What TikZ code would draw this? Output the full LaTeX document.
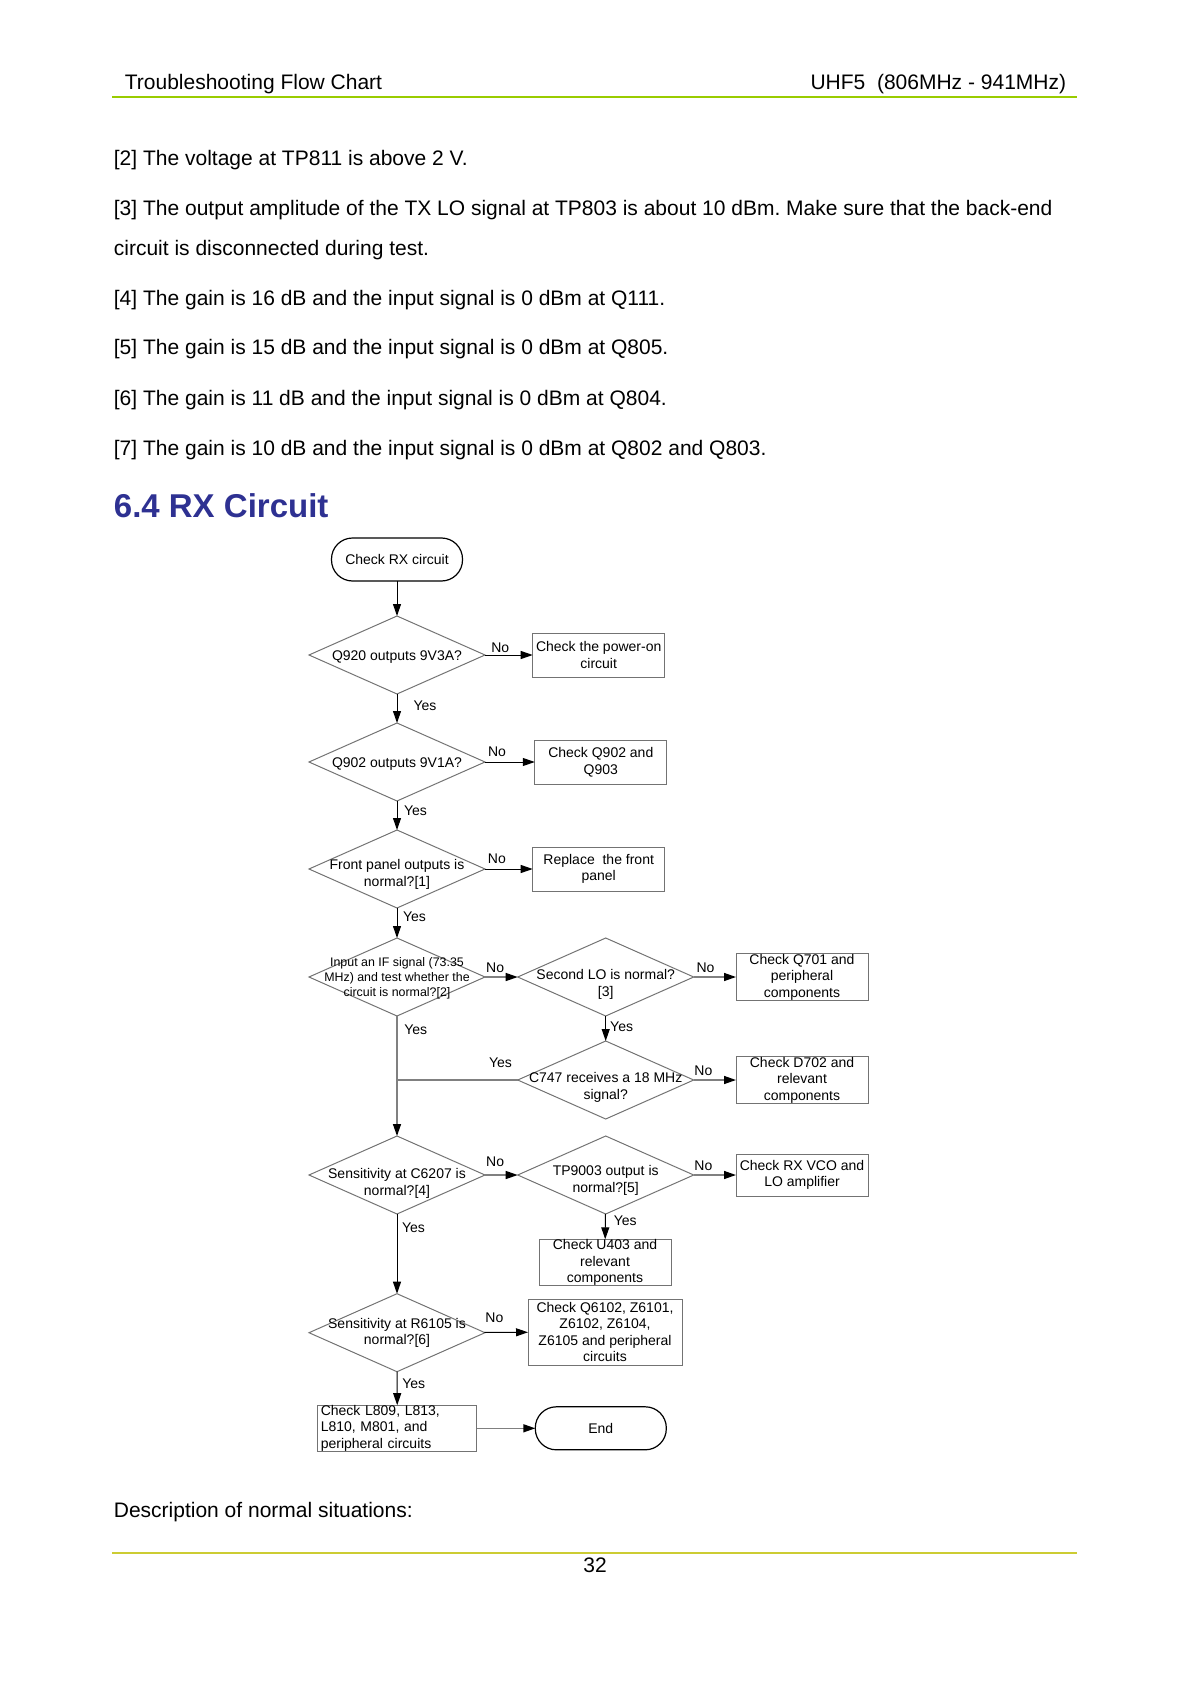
\documentclass[tikz,border=0pt]{standalone}
\usepackage{fontspec}
\setmainfont{Liberation Sans}
\usetikzlibrary{shapes.geometric,arrows.meta}
\definecolor{rxHeadRule}{RGB}{153,204,0}
\definecolor{rxFootRule}{RGB}{204,204,51}
\definecolor{rxTitle}{RGB}{46,49,146}
\newcommand{\bodyfont}{\fontsize{10.5}{12.6}\selectfont}
\newcommand{\chartfont}{\fontsize{7}{8.3}\selectfont}
\newcommand{\smallchartfont}{\fontsize{6.2}{7.5}\selectfont}
\frenchspacing
\begin{document}
\begin{tikzpicture}[x=0.5pt, y=-0.5pt]
% Page frame of the RX flow chart
\providecommand{\rxShapeColor}{black!55}
\providecommand{\rxJoinColor}{black!50}
\useasboundingbox (0,0) rectangle (1191,1684);
% Header
\node[anchor=base west, inner sep=0pt, font=\bodyfont] (hdleft) at (124.5,90) {Troubleshooting Flow Chart};
\node[anchor=base east, inner sep=0pt, font=\bodyfont] (hdright) at (1066.5,90) {UHF5\ \ (806MHz - 941MHz)};
\draw[draw=rxHeadRule, line width=0.9pt] (112,97) -- (1077,97);
% Notes above the chart
\begin{scope}[every node/.style={anchor=base west, inner sep=0pt, font=\bodyfont}]
  \node (note2) at (113.5,166) {[2] The voltage at TP811 is above 2 V.};
  \node (note3) at (113.5,216) {[3] The output amplitude of the TX LO signal at TP803 is about 10 dBm. Make sure that the back-end};
  \node (note3b) at (113.5,256) {circuit is disconnected during test.};
  \node (note4) at (113.5,305.5) {[4] The gain is 16 dB and the input signal is 0 dBm at Q111.};
  \node (note5) at (113.5,355) {[5] The gain is 15 dB and the input signal is 0 dBm at Q805.};
  \node (note6) at (113.5,405.5) {[6] The gain is 11 dB and the input signal is 0 dBm at Q804.};
  \node (note7) at (113.5,455.5) {[7] The gain is 10 dB and the input signal is 0 dBm at Q802 and Q803.};
  \node[font=\fontsize{16.5}{19.5}\selectfont\bfseries, text=rxTitle] (title) at (113.5,517) {6.4 RX Circuit};
  \node (descr) at (113.5,1517.5) {Description of normal situations:};
\end{scope}
% Footer
\draw[draw=rxFootRule, line width=0.6pt] (112,1553) -- (1077,1553);
\node[anchor=base, inner sep=0pt, font=\bodyfont] (pageno) at (595,1572.5) {32};
% Flow chart
\begin{scope}[
    dec/.style={diamond, draw=\rxShapeColor, line width=0.5pt, minimum width=88pt, minimum height=39pt, inner sep=0pt, outer sep=0pt},
    dtxt/.style={font=\chartfont, align=center, inner sep=0pt},
    box/.style={rectangle, draw=\rxShapeColor, line width=0.5pt, minimum width=66pt, minimum height=22pt, inner sep=0pt, outer sep=0pt, align=center, font=\chartfont},
    term/.style={rectangle, rounded corners=10.5pt, draw=black, line width=0.6pt, minimum width=65.5pt, minimum height=21.5pt, outer sep=0pt, font=\chartfont},
    flow/.style={-{Triangle[length=6pt,width=4pt]}, line width=0.5pt},
    gflow/.style={-{Triangle[length=6pt,width=4pt,color=black]}, draw=\rxJoinColor, line width=0.7pt},
    lbl/.style={font=\chartfont, inner sep=1pt}]
  % Shapes
  \node[term] (start) at (397,559.5) {Check RX circuit};
  \node[dec, label={[dtxt, yshift=-1.1pt]center:Q920 outputs 9V3A?}] (q920) at (397,655) {};
  \node[box] (power) at (598.7,655) {Check the power-on\\circuit};
  \node[dec, label={[dtxt, yshift=-1.1pt]center:Q902 outputs 9V1A?}] (q902) at (397,762) {};
  \node[box] (chk902) at (600.8,762) {Check Q902 and\\Q903};
  \node[dec, label={[dtxt, yshift=-2.7pt]center:{Front panel outputs is\\normal?[1]}}] (panel) at (397,869) {};
  \node[box] (replace) at (598.7,869) {Replace\ \ the front\\panel};
  \node[dec, label={[dtxt, font=\smallchartfont, yshift=-0.8pt]center:{Input an IF signal (73.35\\MHz) and test whether the\\circuit is normal?[2]}}] (ifsig) at (397,977) {};
  \node[dec, label={[dtxt, yshift=-3.8pt]center:{Second LO is normal?\\{[3]}}}] (lo2) at (605.7,977) {};
  \node[box] (q701) at (802,977) {Check Q701 and\\peripheral\\components};
  \node[dec, label={[dtxt, yshift=-3.8pt]center:{C747 receives a 18 MHz\\signal?}}] (c747) at (605.7,1080) {};
  \node[box] (d702) at (802,1080) {Check D702 and\\relevant\\components};
  \node[dec, label={[dtxt, yshift=-4.3pt]center:{Sensitivity at C6207 is\\normal?[4]}}] (c6207) at (397,1175) {};
  \node[dec, label={[dtxt, yshift=-2.7pt]center:{TP9003 output is\\normal?[5]}}] (tp9003) at (605.7,1175) {};
  \node[box, minimum height=21pt] (vco) at (802,1175) {Check RX VCO and\\LO amplifier};
  \node[box] (u403) at (605,1262.4) {Check U403 and\\relevant\\components};
  \node[dec, label={[dtxt]center:{Sensitivity at R6105 is\\normal?[6]}}] (r6105) at (397,1332.7) {};
  \node[box, minimum width=77pt, minimum height=33pt] (q6102) at (605,1332) {Check Q6102, Z6101,\\Z6102, Z6104,\\Z6105 and peripheral\\circuits};
  \node[box, text width=76.5pt, inner xsep=1.5pt, align=left] (l809) at (397.3,1428.3) {Check L809, L813,\\L810, M801, and\\peripheral circuits};
  \node[term] (end) at (600.8,1428.3) {End};
  % Connectors
  \draw[flow] (start) -- (q920);
  \draw[flow] (q920) -- node[lbl, above, pos=0.32] (no1) {No} (power);
  \draw[flow] (q920) -- node[lbl, right, pos=0.40, xshift=7pt] (yes1) {Yes} (q902);
  \draw[flow] (q902) -- node[lbl, above, pos=0.24, yshift=1.3pt] (no2) {No} (chk902);
  \draw[flow] (q902) -- node[lbl, right, pos=0.34, xshift=2.3pt] (yes2) {Yes} (panel);
  \draw[flow] (panel) -- node[lbl, above, pos=0.25, yshift=1.3pt] (no3) {No} (replace);
  \draw[flow] (panel) -- node[lbl, right, pos=0.30, xshift=1.8pt] (yes3) {Yes} (ifsig);
  \draw[gflow] (ifsig) -- node[lbl, above, pos=0.31, yshift=1pt] (no4) {No} (lo2);
  \draw[gflow] (lo2) -- node[lbl, above, pos=0.28, yshift=1pt] (no5) {No} (q701);
  \draw[flow] (lo2) -- node[lbl, right, pos=0.42, xshift=1pt] (yes5) {Yes} (c747);
  \draw[gflow] (c747) -- node[lbl, above, pos=0.23, yshift=1pt] (no6) {No} (d702);
  \draw[draw=\rxJoinColor, line width=0.7pt] (c747) -- node[lbl, above, pos=0.143, yshift=5pt] (yes6) {Yes} (c747.west -| ifsig.south);
  \draw[gflow] (ifsig) -- node[lbl, right, pos=0.117, xshift=2.3pt] (yes4) {Yes} (c6207);
  \draw[gflow] (c6207) -- node[lbl, above, pos=0.31, yshift=3pt] (no7) {No} (tp9003);
  \draw[gflow] (tp9003) -- node[lbl, above, pos=0.23, yshift=1pt] (no8) {No} (vco);
  \draw[flow] (tp9003) -- node[lbl, right, pos=0.28, xshift=3pt] (yes7) {Yes} (u403);
  \draw[flow] (c6207) -- node[lbl, right, pos=0.17, xshift=1.3pt] (yes8) {Yes} (r6105);
  \draw[flow] (r6105) -- node[lbl, above, pos=0.23, yshift=3.5pt] (no9) {No} (q6102);
  \draw[flow] (r6105) -- node[lbl, right, pos=0.37, xshift=1.3pt] (yes9) {Yes} (l809);
  \draw[gflow] (l809) -- (end);
\end{scope}
\end{tikzpicture}
\end{document}
